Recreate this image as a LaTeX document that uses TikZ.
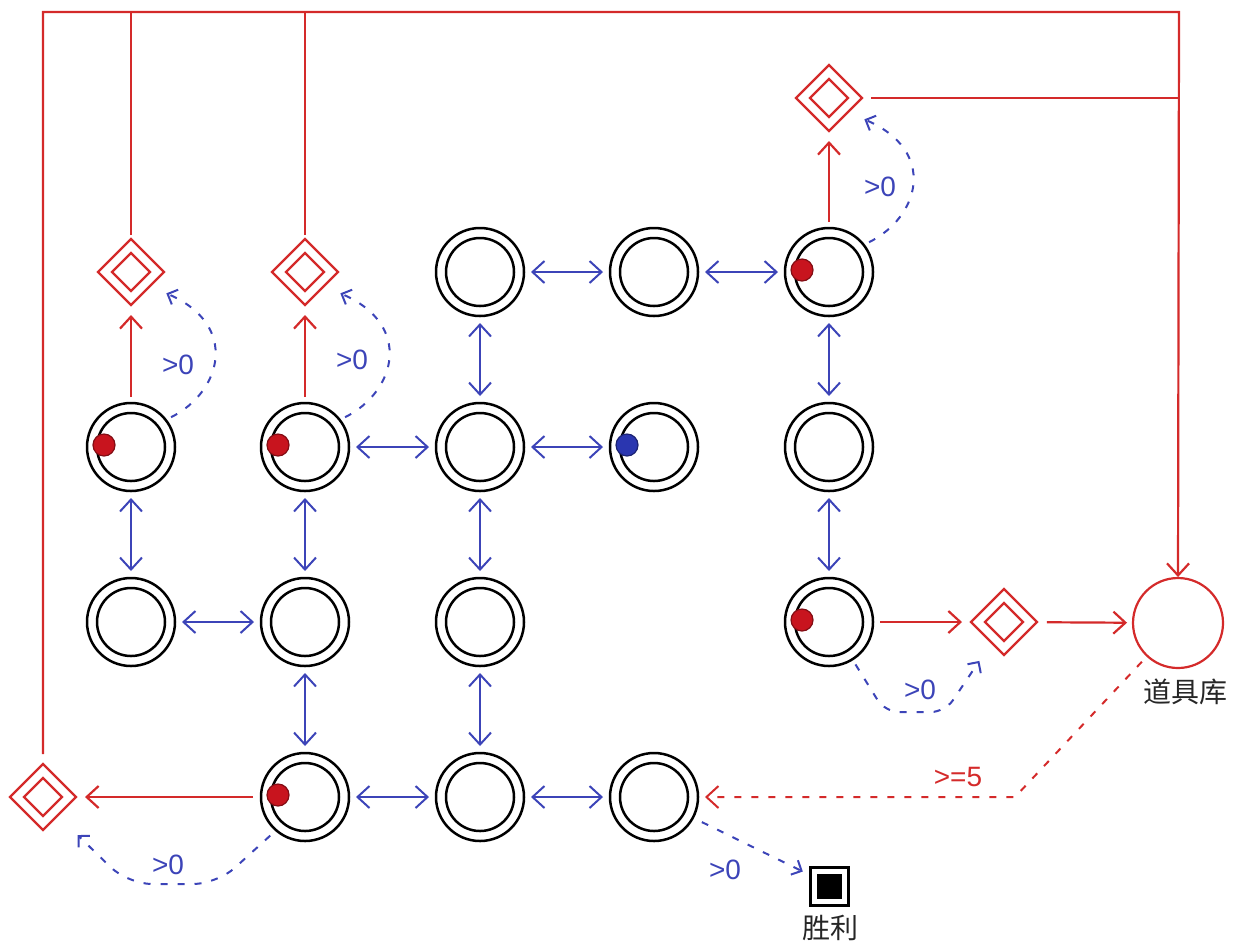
\documentclass[tikz,border=0pt]{standalone}
\usepackage{fontspec}
\setmainfont{Liberation Sans}
\newfontfamily\cjk{Noto Sans CJK SC}
\usetikzlibrary{arrows.meta,shapes.geometric,calc}
\definecolor{myred}{HTML}{D42A2A}
\definecolor{myblue}{HTML}{3C44B8}
\definecolor{dotred}{HTML}{C8141E}
\definecolor{dotblue}{HTML}{2A36B0}
\newcommand\innerring[1]{\draw[line width=1.25pt] (#1) circle (17pt);}
\newcommand\innerdia[1]{\draw[myred,line width=1.1pt] ($(#1)+(0,-19)$) -- ($(#1)+(19,0)$) -- ($(#1)+(0,19)$) -- ($(#1)+(-19,0)$) -- cycle;}
\newcommand\tokred[1]{\filldraw[fill=dotred,draw=dotred!65!black,line width=0.6pt] ($(#1)+(-27,-2)$) circle (5.5pt);}
\newcommand\tokblue[1]{\filldraw[fill=dotblue,draw=dotblue!65!black,line width=0.6pt] ($(#1)+(-27,-2)$) circle (5.5pt);}
\begin{document}
\begin{tikzpicture}[x=0.5pt,y=-0.5pt,
  place/.style={circle,draw=black,line width=1.25pt,minimum size=44pt,inner sep=0pt,outer sep=0pt},
  store/.style={circle,draw=myred,line width=1.1pt,minimum size=45pt,inner sep=0pt,outer sep=0pt},
  gate/.style={diamond,draw=myred,line width=1.1pt,minimum size=33pt,inner sep=0pt,outer sep=0pt,aspect=1},
  winbox/.style={rectangle,draw=black,line width=1.5pt,minimum size=19pt,inner sep=0pt,outer sep=0pt},
  link/.style={myblue,line width=1pt,{Straight Barb[length=6pt,width=11pt]}-{Straight Barb[length=6pt,width=11pt]},shorten <=3.5pt,shorten >=3.5pt},
  feed/.style={myred,line width=1.1pt,-{Straight Barb[length=6pt,width=11pt]}},
  redline/.style={myred,line width=1.1pt},
  cond/.style={myblue,line width=1pt,dash pattern=on 3.5pt off 5pt,-{Straight Barb[length=4pt,width=8pt]}},
  rcond/.style={myred,line width=1pt,dash pattern=on 3.5pt off 5pt,-{Straight Barb[length=6pt,width=11pt]}},
  lbl/.style={font=\fontsize{14}{14}\selectfont,text=myblue,inner sep=0pt},
  rlbl/.style={font=\fontsize{14}{14}\selectfont,text=myred,inner sep=0pt},
  zh/.style={font=\cjk\fontsize{14}{14}\selectfont,text=black!85,inner sep=0pt},
]
\useasboundingbox (0,0) rectangle (1234,944);

% places
\node[place] (c02) at (480,272) {};
\node[place] (c03) at (654,272) {};
\node[place] (c04) at (829,272) {};
\node[place] (c10) at (131,447) {};
\node[place] (c11) at (305,447) {};
\node[place] (c12) at (480,447) {};
\node[place] (c13) at (654,447) {};
\node[place] (c14) at (829,447) {};
\node[place] (c20) at (131,622) {};
\node[place] (c21) at (305,622) {};
\node[place] (c22) at (480,622) {};
\node[place] (c24) at (829,622) {};
\node[place] (c31) at (305,797) {};
\node[place] (c32) at (480,797) {};
\node[place] (c33) at (654,797) {};
\foreach \n in {c02,c03,c04,c10,c11,c12,c13,c14,c20,c21,c22,c24,c31,c32,c33} {\innerring{\n}}

% tokens
\tokred{c04}
\tokred{c10}
\tokred{c11}
\tokred{c24}
\tokred{c31}
\tokblue{c13}

% gates
\node[gate] (g0) at (131,272) {};
\node[gate] (g1) at (305,272) {};
\node[gate] (g4) at (829,98) {};
\node[gate] (g24) at (1004,622) {};
\node[gate] (g31) at (43,797) {};
\foreach \n in {g0,g1,g4,g24,g31} {\innerdia{\n}}

% store
\node[store] (st) at (1178,623) {};
\node[zh] (stl) at (1185,692) {道具库};

% win
\node[winbox] (win) at (829,886) {};
\fill[black] ($(win)+(-12.5,-12.5)$) rectangle ($(win)+(12.5,12.5)$);
\node[zh] (winl) at (830,928) {胜利};

% blue two-way links
\draw[link] (c02) -- (c03);
\draw[link] (c03) -- (c04);
\draw[link] (c02) -- (c12);
\draw[link] (c04) -- (c14);
\draw[link] (c11) -- (c12);
\draw[link] (c12) -- (c13);
\draw[link] (c10) -- (c20);
\draw[link] (c11) -- (c21);
\draw[link] (c12) -- (c22);
\draw[link] (c14) -- (c24);
\draw[link] (c20) -- (c21);
\draw[link] (c21) -- (c31);
\draw[link] (c22) -- (c32);
\draw[link] (c31) -- (c32);
\draw[link] (c32) -- (c33);

% red flows
\coordinate (tr) at (1179,12);
\draw[feed,shorten <=5pt,shorten >=0.5pt] (g31.north) |- (tr) -- (st.north);
\draw[redline,shorten <=2pt] (g0.north) -- (g0.north |- tr);
\draw[redline,shorten <=2pt] (g1.north) -- (g1.north |- tr);
\draw[redline,shorten <=4.5pt] (g4.east) -- (g4.east -| tr);
\draw[feed,shorten <=3pt,shorten >=5pt] (c10) -- (g0);
\draw[feed,shorten <=3pt,shorten >=5pt] (c11) -- (g1);
\draw[feed,shorten <=3pt,shorten >=5pt] (c04) -- (g4);
\draw[feed,shorten <=3.5pt,shorten >=4.5pt] (c24) -- (g24);
\draw[feed,shorten <=5pt,shorten >=3pt] (g24) -- (st);
\draw[feed,shorten <=4pt,shorten >=4.5pt] (c31) -- (g31);

% blue conditional (dashed) arrows
\draw[cond,shorten <=3pt,shorten >=9pt] (c10.38) .. controls +(56,-28) and +(90,39) .. (g0.-37);
\node[lbl] (l10) at (178,365) {>0};
\draw[cond,shorten <=3pt,shorten >=9pt] (c11.38) .. controls +(56,-28) and +(90,39) .. (g1.-37);
\node[lbl] (l11) at (352,360) {>0};
\draw[cond,shorten <=3pt,shorten >=9pt] (c04.38) .. controls +(56,-28) and +(90,39) .. (g4.-37);
\node[lbl] (l04) at (880,187) {>0};
\draw[cond,rounded corners=7pt,shorten <=3pt,shorten >=11pt] (c24.-58) -- (885,712) -- (945,712) -- (g24.-121);
\node[lbl] (l24) at (920,690) {>0};
\draw[cond,rounded corners=12pt,shorten <=4pt,shorten >=14pt] (c31.229) -- (217,884) -- (128,884) -- (g31.-52);
\node[lbl] (l31) at (168,865) {>0};
\draw[cond,shorten <=5pt,shorten >=4pt] (c33.-28) -- (win.150);
\node[lbl] (l33) at (725,870) {>0};

% red conditional
\draw[rcond,shorten <=4pt,shorten >=3.5pt] (st.227) -- (1015,797) -- (c33.east);
\node[rlbl] (lst) at (958,777) {>=5};
\end{tikzpicture}
\end{document}
